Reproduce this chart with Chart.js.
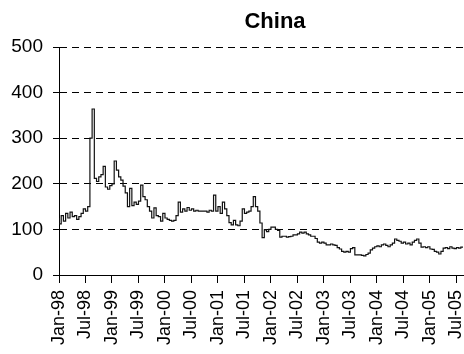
<!DOCTYPE html>
<html>
<head>
<meta charset="utf-8">
<script src="https://cdn.jsdelivr.net/npm/chart.js@4"></script>
<style>
  html, body { margin: 0; padding: 0; background: #fff; overflow: hidden; }
  #wrap { width: 464px; height: 354px; position: relative; overflow: hidden; }
</style>
</head>
<body>
<div id="wrap"><canvas id="chinaChart" width="485" height="354"></canvas></div>
<script>
// Tick positions are months since Jan-98, labelled every half year
const tickMonths = [0, 6, 12, 18, 24, 30, 36, 42, 48, 54, 60, 66, 72, 78, 84, 90];
const tickLabels = ['Jan-98', 'Jul-98', 'Jan-99', 'Jul-99', 'Jan-00', 'Jul-00', 'Jan-01', 'Jul-01',
  'Jan-02', 'Jul-02', 'Jan-03', 'Jul-03', 'Jan-04', 'Jul-04', 'Jan-05', 'Jul-05'];
const yTicks = [0, 100, 200, 300, 400, 500];

// Readings taken every half month, one row per year
const values1998 = [125, 112, 130, 118, 135, 125, 138, 128, 130, 122, 128, 135, 145, 140, 150, 300, 364, 212, 205, 215, 220, 238, 193, 188];
const values1999 = [196, 200, 250, 230, 215, 208, 195, 180, 150, 190, 152, 160, 155, 162, 197, 172, 165, 150, 140, 125, 147, 130, 128, 118];
const values2000 = [135, 125, 122, 120, 118, 120, 130, 160, 138, 145, 140, 148, 142, 145, 140, 142, 140, 140, 140, 140, 138, 142, 140, 175];
const values2001 = [140, 150, 135, 160, 145, 130, 115, 110, 120, 110, 108, 118, 145, 135, 138, 140, 150, 172, 150, 140, 114, 82, 99, 95];
const values2002 = [100, 105, 105, 100, 98, 83, 85, 85, 83, 84, 85, 88, 88, 90, 94, 92, 94, 90, 88, 85, 85, 80, 72, 70];
const values2003 = [72, 70, 66, 66, 68, 66, 65, 60, 57, 52, 50, 52, 50, 58, 60, 44, 44, 44, 43, 42, 45, 48, 55, 59];
const values2004 = [62, 64, 62, 66, 68, 65, 62, 66, 70, 79, 76, 74, 70, 72, 68, 70, 66, 72, 76, 79, 70, 61, 62, 60];
const values2005 = [62, 57, 56, 52, 50, 46, 52, 59, 60, 58, 62, 59, 58, 60, 59, 61];

const allValues = [].concat(values1998, values1999, values2000, values2001,
  values2002, values2003, values2004, values2005);
const points = allValues.map((v, i) => ({ x: i * 0.5, y: v }));

const FONT = '"Liberation Sans", Arial, sans-serif';

// Title drawn by hand so it sits where the original one does
const titlePlugin = {
  id: 'titleText',
  afterDraw(chart) {
    const ctx = chart.ctx;
    ctx.save();
    ctx.font = 'bold 22px ' + FONT;
    ctx.fillStyle = '#000';
    ctx.textAlign = 'center';
    ctx.textBaseline = 'alphabetic';
    ctx.fillText('China', 275, 28);
    ctx.restore();
  }
};

new Chart(document.getElementById('chinaChart'), {
  type: 'line',
  data: {
    datasets: [{
      data: points,
      borderColor: '#111',
      borderWidth: 1.2,
      pointRadius: 0,
      stepped: 'after',
      fill: false
    }]
  },
  options: {
    responsive: false,
    animation: false,
    layout: { padding: { top: 47, right: 0, bottom: 0, left: 0 } },
    plugins: {
      legend: { display: false },
      tooltip: { enabled: false }
    },
    scales: {
      x: {
        type: 'linear',
        min: 0,
        max: 91.8,
        afterBuildTicks: scale => {
          scale.ticks = tickMonths.map(v => ({ value: v }));
        },
        afterFit: scale => { scale.height = 79; },
        grid: {
          drawOnChartArea: false,
          tickLength: 8,
          tickColor: '#000'
        },
        border: { color: '#000', width: 1 },
        ticks: {
          autoSkip: false,
          minRotation: 90,
          maxRotation: 90,
          padding: 7,
          color: '#000',
          font: { family: FONT, size: 18 },
          callback: value => tickLabels[tickMonths.indexOf(value)]
        }
      },
      y: {
        min: 0,
        max: 500,
        afterBuildTicks: scale => {
          scale.ticks = yTicks.map(v => ({ value: v }));
        },
        afterFit: scale => { scale.width = 59; },
        grid: {
          color: '#000',
          lineWidth: 1,
          tickLength: 6,
          tickColor: '#000',
          tickBorderDash: []
        },
        border: { color: '#000', width: 1, dash: [7, 5] },
        ticks: {
          padding: 10,
          color: '#000',
          font: { family: FONT, size: 19 }
        }
      }
    }
  },
  plugins: [titlePlugin]
});
</script>
</body>
</html>
